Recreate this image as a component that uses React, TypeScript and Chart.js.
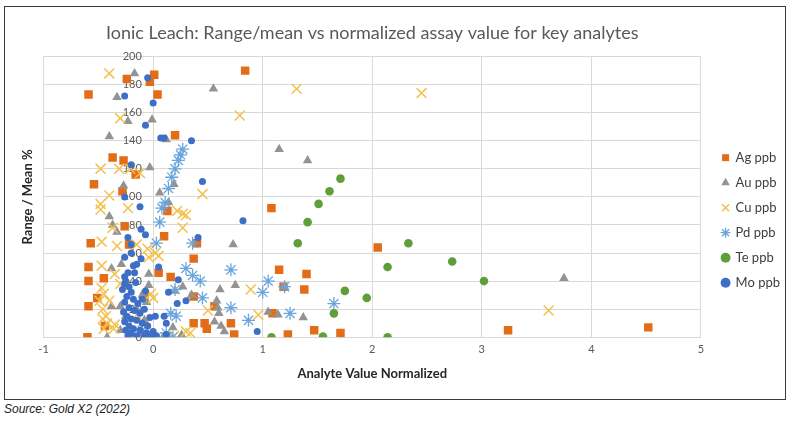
import React, { useEffect, useRef } from "react";
import { Chart, registerables } from "chart.js";

Chart.register(...registerables);

// [x, y] pairs: x = normalized analyte value, y = range / mean %
const agPoints: [number, number][] = [
  [-0.6, 0], [-0.59, 173], [-0.24, 184], [0.01, 187], [-0.03, 182], [0.04, 173], [0.84, 190],
  [0.2, 144], [-0.37, 128], [-0.27, 126], [-0.16, 116], [-0.54, 109], [-0.28, 104], [0.13, 90],
  [1.08, 92], [0.1, 72], [-0.26, 79], [-0.57, 67], [-0.22, 66], [0.4, 67], [2.05, 64], [0.37, 56],
  [-0.59, 50], [0.05, 46], [0.16, 43], [-0.59, 40], [-0.45, 42], [1.15, 48], [1.4, 45], [1.38, 34],
  [1.19, 36], [-0.51, 28], [-0.59, 22], [-0.08, 29], [0.37, 29], [0.56, 22], [1.09, 17], [-0.44, 8],
  [0.37, 10], [0.47, 10], [0.49, 6], [0.71, 10], [0.74, 2], [1.23, 2], [1.47, 5], [1.71, 3],
  [3.24, 5], [4.52, 7],
];

const auPoints: [number, number][] = [
  [-0.17, 188], [-0.33, 171], [-0.23, 154], [-0.01, 155], [0.55, 177], [-0.4, 143], [0.12, 141],
  [1.15, 134], [1.41, 126], [-0.03, 121], [0.19, 109], [-0.27, 108], [0.06, 103], [0.14, 96],
  [-0.4, 86], [-0.37, 80], [-0.33, 75], [0.73, 66], [-0.38, 49], [-0.29, 52], [-0.04, 45],
  [-0.04, 37], [0.27, 36], [0.2, 33], [0.61, 34], [0.75, 37], [1.2, 36], [0.35, 30], [-0.3, 22],
  [-0.38, 22], [0.58, 26], [0.59, 21], [0.6, 17], [1.05, 18], [1.14, 16], [1.37, 14], [0.56, 11],
  [0.62, 8], [0.65, 4], [0.18, 7], [0.26, 1.5], [-0.42, 0], [-0.19, 0], [0.09, 0], [-0.1, 30],
  [-0.06, 25], [-0.15, 20], [-0.25, 15], [-0.08, 12], [-0.3, 5], [-0.12, 3], [3.75, 42],
];

const cuPoints: [number, number][] = [
  [-0.4, 188], [1.31, 177], [2.45, 174], [0.79, 158], [-0.3, 156], [-0.48, 120], [-0.31, 120],
  [-0.21, 120], [-0.12, 117], [-0.4, 101], [0.45, 102], [-0.48, 95], [-0.48, 91], [-0.23, 92],
  [0.22, 90], [0.27, 88], [0.3, 87], [0.27, 78], [-0.37, 78], [-0.47, 68], [-0.33, 65],
  [-0.15, 66], [-0.05, 63], [0.02, 60], [-0.04, 57], [0.05, 58], [-0.47, 51], [-0.35, 45],
  [-0.3, 38], [-0.47, 35], [-0.45, 31], [-0.49, 26], [-0.4, 26], [-0.46, 20], [-0.43, 15],
  [-0.46, 13], [-0.42, 10], [-0.45, 6], [-0.36, 6], [-0.35, 9], [-0.15, 16], [-0.02, 31],
  [0.0, 28], [0.89, 34], [0.96, 16], [0.5, 19], [0.34, 3], [0.19, 1], [0.3, 4], [3.61, 19],
];

const pdPoints: [number, number][] = [
  [0.27, 134], [0.25, 130], [0.23, 126], [0.2, 120], [0.17, 114], [0.14, 106], [0.11, 96],
  [0.08, 92], [0.06, 82], [0.03, 67], [-0.05, 0], [0.18, 0], [0.3, 49], [0.36, 44], [0.43, 40],
  [0.36, 67], [0.71, 48], [1.05, 40], [1.0, 32], [1.2, 36], [1.25, 17], [1.65, 24], [0.45, 28],
  [0.71, 21], [0.87, 12], [0.2, 34], [0.16, 17], [0.21, 15], [-0.1, 5], [0.12, 3],
];

const tePoints: [number, number][] = [
  [1.71, 113], [1.61, 104], [1.51, 95], [1.41, 82], [1.32, 67], [2.14, 50], [1.75, 33],
  [1.95, 28], [1.65, 17], [1.08, 0], [1.55, 0.5], [2.14, 0], [2.33, 67], [2.73, 54], [3.02, 40],
];

const moPoints: [number, number][] = [
  [-0.05, 185], [-0.26, 172], [0.0, 167], [-0.07, 151], [0.07, 142], [0.1, 142], [0.35, 140],
  [-0.2, 123], [0.45, 111], [-0.26, 100], [-0.12, 93], [0.82, 83], [0.41, 71], [-0.11, 77],
  [-0.07, 73], [-0.23, 71], [-0.2, 66], [-0.26, 57], [-0.2, 60], [-0.11, 56], [-0.18, 51],
  [-0.15, 52], [-0.23, 46], [-0.17, 46], [-0.26, 43], [-0.26, 38], [0.05, 50], [0.23, 41],
  [0.14, 32], [0.22, 24], [0.3, 26], [0.02, 15], [0.1, 15], [0.12, 10], [0.0, 4], [0.12, 2],
  [0.95, 4], [-0.25, 40], [-0.22, 36], [-0.28, 34], [-0.2, 32], [-0.24, 29], [-0.18, 27],
  [-0.26, 25], [-0.14, 24], [-0.22, 21], [-0.17, 19], [-0.27, 18], [-0.12, 17], [-0.24, 15],
  [-0.2, 13], [-0.15, 12], [-0.26, 11], [-0.1, 10], [-0.22, 8], [-0.18, 6], [-0.25, 5],
  [-0.12, 5], [-0.2, 3], [-0.15, 1], [-0.08, 1], [-0.23, 1], [-0.05, 8], [-0.03, 14],
  [-0.08, 20], [-0.1, 27], [-0.06, 3], [-0.16, 39], [-0.07, 33], [0.03, 1], [-0.02, 0],
];

const seriesNames = ["Ag ppb", "Au ppb", "Cu ppb", "Pd ppb", "Te ppb", "Mo ppb"];
const xTicks = [-1, 0, 1, 2, 3, 4, 5];

const toXY = (pts: [number, number][]) => pts.map(([x, y]) => ({ x, y }));

const App: React.FC = () => {
  const chartRef = useRef<HTMLCanvasElement | null>(null);

  useEffect(() => {
    if (!chartRef.current) return;
    const ctx = chartRef.current.getContext("2d");
    if (!ctx) return;

    const chart = new Chart(ctx, {
      type: "scatter",
      data: {
        datasets: [
          {
            label: seriesNames[0],
            data: toXY(agPoints),
            pointStyle: "rect",
            pointRadius: 6,
            backgroundColor: "#E36C17",
            borderColor: "#E36C17",
            borderWidth: 0,
            order: 6,
          },
          {
            label: seriesNames[1],
            data: toXY(auPoints),
            pointStyle: "triangle",
            pointRadius: 5.5,
            backgroundColor: "#939393",
            borderColor: "#939393",
            borderWidth: 0,
            order: 5,
          },
          {
            label: seriesNames[2],
            data: toXY(cuPoints),
            pointStyle: "crossRot",
            pointRadius: 7,
            backgroundColor: "#F3C04C",
            borderColor: "#F3C04C",
            borderWidth: 1.5,
            order: 4,
          },
          {
            label: seriesNames[3],
            data: toXY(pdPoints),
            pointStyle: "star",
            pointRadius: 6.5,
            backgroundColor: "#6AA6DC",
            borderColor: "#6AA6DC",
            borderWidth: 1.3,
            order: 3,
          },
          {
            label: seriesNames[4],
            data: toXY(tePoints),
            pointStyle: "circle",
            pointRadius: 4.3,
            backgroundColor: "#5F9F3A",
            borderColor: "#5F9F3A",
            borderWidth: 0,
            order: 2,
          },
          {
            label: seriesNames[5],
            data: toXY(moPoints),
            pointStyle: "circle",
            pointRadius: 3.5,
            backgroundColor: "#3E6FC6",
            borderColor: "#3E6FC6",
            borderWidth: 0,
            order: 1,
          },
        ],
      },
      options: {
        responsive: true,
        maintainAspectRatio: false,
        animation: false,
        layout: { padding: { left: 8, right: -5, bottom: 14 } },
        plugins: {
          title: {
            display: true,
            text: "Ionic Leach: Range/mean vs normalized assay value for key analytes",
            color: "#595959",
            fullSize: false,
            font: { family: "Lato", size: 18, weight: "normal" },
            padding: { top: 15, bottom: 13 },
          },
          legend: {
            position: "right",
            title: {
              display: true,
              text: "",
              font: { size: 7 },
              padding: { top: 40, bottom: 0 },
            },
            labels: {
              usePointStyle: true,
              boxWidth: 7,
              boxHeight: 7,
              padding: 12,
              color: "#404040",
              font: { family: "Lato", size: 13 },
              sort: (a, b) => (a.datasetIndex ?? 0) - (b.datasetIndex ?? 0),
            },
          },
          tooltip: { enabled: false },
        },
        scales: {
          x: {
            type: "linear",
            position: "bottom",
            min: -1,
            max: 5,
            afterBuildTicks: (scale) => {
              scale.ticks = xTicks.map((v) => ({ value: v }));
            },
            grid: { color: "#D9D9D9", drawTicks: false },
            border: { color: "#D9D9D9" },
            ticks: {
              padding: 6,
              color: "#595959",
              font: { family: "Lato", size: 11 },
            },
            title: {
              display: true,
              text: "Analyte Value Normalized",
              color: "#262626",
              font: { family: "Lato", size: 13, weight: "bold" },
              padding: { top: 4, bottom: 3 },
            },
          },
          y: {
            type: "linear",
            position: { x: 0 },
            min: 0,
            max: 200,
            ticks: {
              stepSize: 20,
              color: "#595959",
              font: { family: "Lato", size: 11 },
              // labels sit on the x = 0 axis; trailing spaces keep a gap to the line
              callback: (v) => `${v}    `,
            },
            grid: { color: "#D9D9D9", drawTicks: false },
            border: { color: "#D9D9D9" },
          },
          yTitle: {
            type: "linear",
            axis: "y",
            position: "left",
            min: 0,
            max: 200,
            ticks: { display: false },
            grid: { display: false },
            border: { display: false },
            title: {
              display: true,
              text: "Range / Mean %",
              color: "#262626",
              font: { family: "Lato", size: 13, weight: "bold" },
              padding: { top: 7, bottom: 0 },
            },
          },
          // empty spacer between the plot and the legend
          yPad: {
            type: "linear",
            axis: "y",
            position: "right",
            min: 0,
            max: 200,
            ticks: { display: false },
            grid: { display: false },
            border: { display: false },
            title: {
              display: true,
              text: " ",
              font: { size: 1 },
              padding: { top: 0, bottom: 0 },
            },
          },
        },
      },
    });

    return () => {
      chart.destroy();
    };
  }, []);

  return (
    <>
      <div
        style={{
          position: "absolute",
          left: 4,
          top: 6,
          width: 780,
          height: 392,
          border: "1px solid #3a3a3a",
          background: "#fff",
        }}
      >
        <canvas ref={chartRef} />
      </div>
      <div
        style={{
          position: "absolute",
          left: 4,
          top: 402,
          fontFamily: "'Liberation Sans', Arial, sans-serif",
          fontStyle: "italic",
          fontSize: 12,
          color: "#222",
        }}
      >
        Source: Gold X2 (2022)
      </div>
    </>
  );
};

export default App;
